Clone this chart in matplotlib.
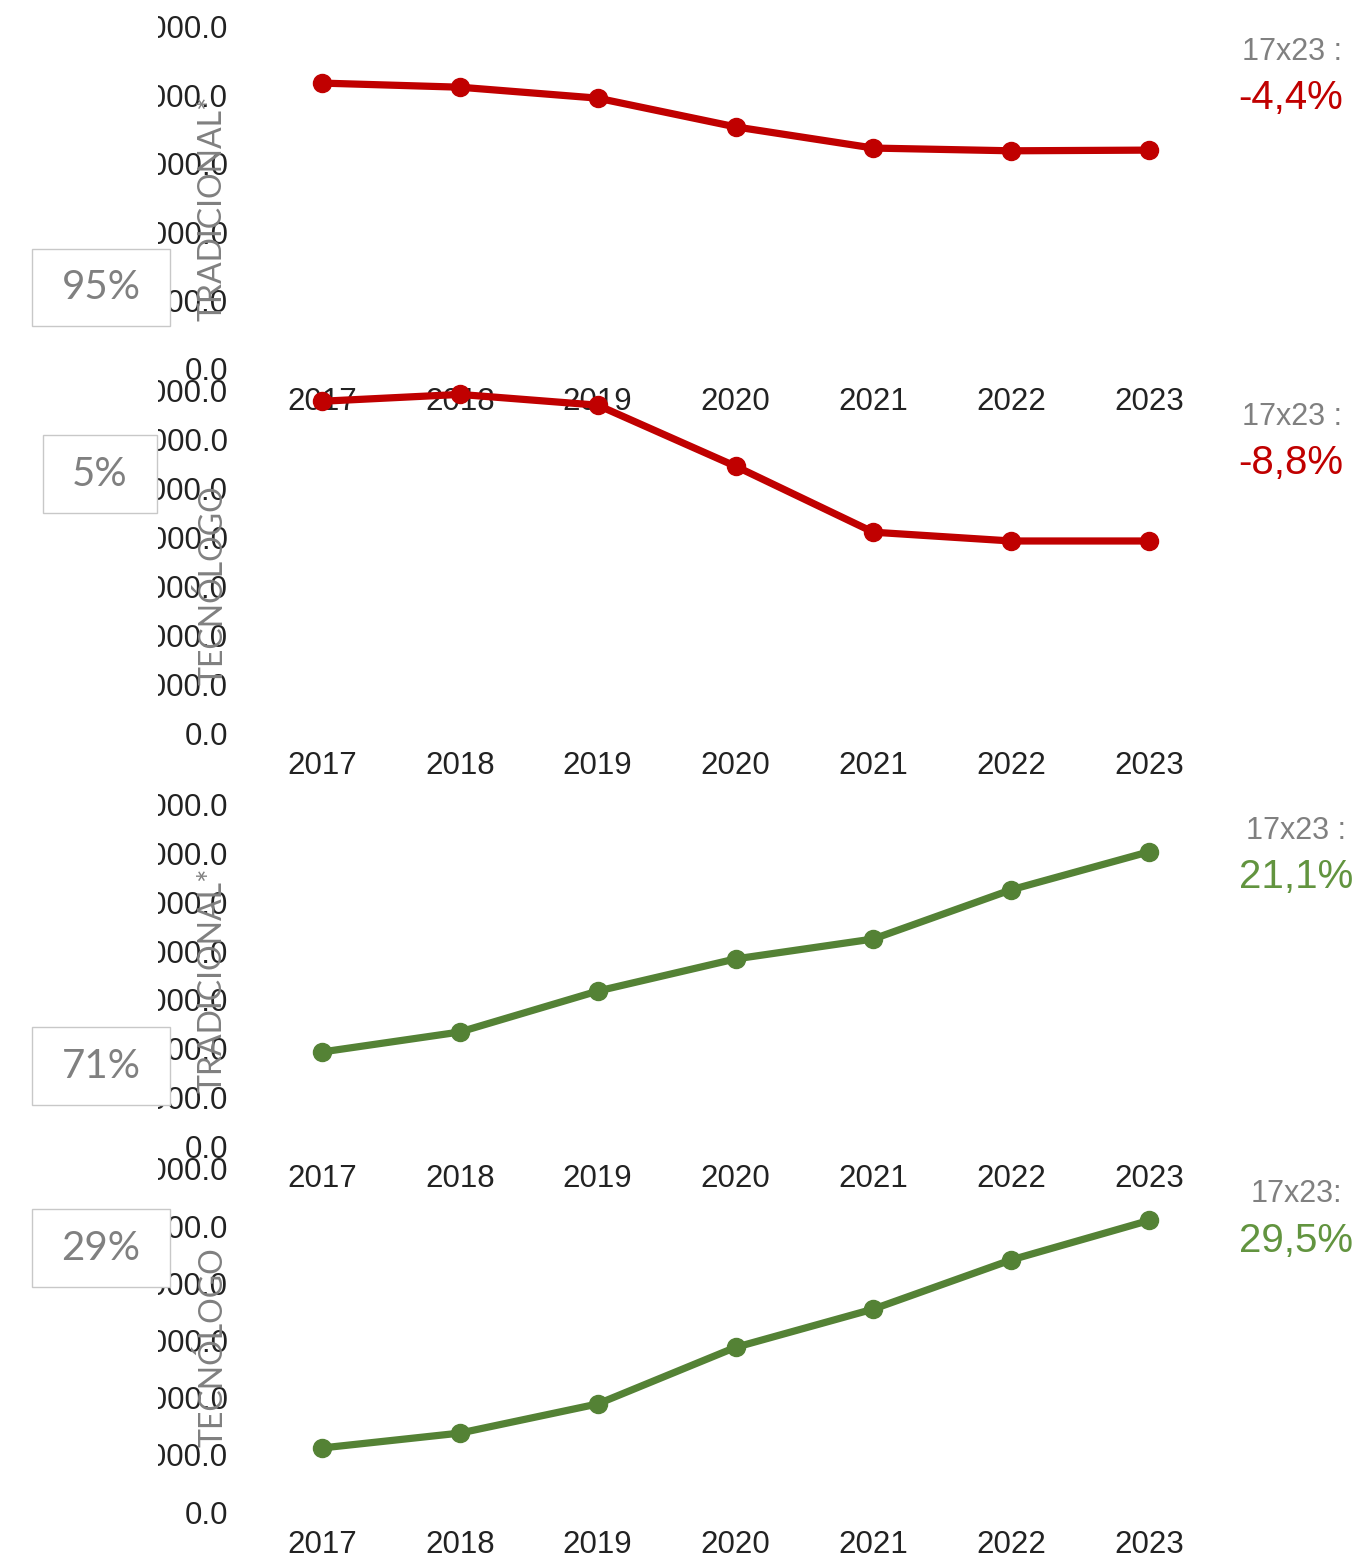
import matplotlib
matplotlib.use('Agg')
import matplotlib.pyplot as plt
from matplotlib.patches import Rectangle

years = ['2017', '2018', '2019', '2020', '2021', '2022', '2023']

# four panels: presencial tradicional / tecnologo, ead tradicional / tecnologo
trad_1 = [83600, 82400, 79200, 70800, 64600, 63800, 64000]
tecn_1 = [67900, 69300, 67100, 54600, 41100, 39300, 39300]
trad_2 = [193000, 234000, 318000, 384000, 425000, 526000, 604000]
tecn_2 = [22400, 27600, 37800, 57600, 71000, 88200, 102000]

series = [trad_1, tecn_1, trad_2, tecn_2]
y_steps = [20000, 10000, 100000, 20000]
y_ntick = [5, 7, 7, 6]
y_titles = ['TRADICIONAL*', 'TECNÓLOGO', 'TRADICIONAL*', 'TECNÓLOGO']
shares = ['95%', '5%', '71%', '29%']
growth_head = ['17x23 :', '17x23 :', '17x23 :', '17x23:']
growth = ['-4,4%', '-8,8%', '21,1%', '29,5%']

RED = '#C00000'
GREEN = '#548235'
GREEN_TXT = '#62943f'
GRAY = '#808080'

W, H = 1364, 1568
dpi = 100
fig = plt.figure(figsize=(W / dpi, H / dpi), dpi=dpi)

# axes boxes in pixels (top, bottom)
rows = [(27, 369), (391, 733), (805, 1146), (1169, 1512)]
left, right = 253, 1218
colors = [RED, RED, GREEN, GREEN]
title_y = [208, 585, 980, 1347]
shade_x = [(32, 170), (43, 157), (32, 170), (32, 170)]
shade_y = [(249, 326), (435, 513), (1027, 1105), (1209, 1287)]
head_pos = [(1292, 52), (1292, 417), (1296, 831), (1296, 1194)]
val_pos = [(1291, 98), (1291, 463), (1296, 877), (1296, 1241)]

for i, vals in enumerate(series):
    top, bot = rows[i]
    ax = fig.add_axes([left / W, 1 - bot / H, (right - left) / W, (bot - top) / H])
    x = range(len(years))
    ax.plot(x, vals, color=colors[i], lw=5.2, marker='o', ms=13,
            solid_capstyle='round', clip_on=False)
    ax.set_xlim(-0.5, len(years) - 0.5)
    ymax = y_steps[i] * y_ntick[i]
    ax.set_ylim(0, ymax)
    ax.set_yticks([y_steps[i] * k for k in range(y_ntick[i] + 1)])
    ax.set_yticklabels(['%.1f' % (y_steps[i] * k) for k in range(y_ntick[i] + 1)],
                       fontsize=22.5, family='Liberation Sans', color='#222222')
    ax.set_xticks(list(x))
    ax.set_xticklabels(years, fontsize=22.5, family='Liberation Sans',
                       color='#222222')
    ax.tick_params(length=0, pad=13)
    ax.tick_params(axis='y', pad=18)
    for s in ax.spines.values():
        s.set_visible(False)
    ax.patch.set_alpha(0)

    # rotated category label sitting over the tick labels
    fig.text(213 / W, 1 - title_y[i] / H, y_titles[i], rotation=90,
             ha='center', va='center', fontsize=23, family='Lato', color=GRAY)

    # share box
    x0, x1 = shade_x[i]
    y0, y1 = shade_y[i]
    fig.patches.append(Rectangle((x0 / W, 1 - y1 / H), (x1 - x0) / W, (y1 - y0) / H,
                                 transform=fig.transFigure, facecolor='white',
                                 edgecolor='#c8c8c8', lw=1, zorder=3))
    fig.text((x0 + x1) / 2 / W, 1 - (y0 + y1) / 2 / H, shares[i], ha='center',
             va='center', fontsize=29, family='Lato', color=GRAY, zorder=4)

    fig.text(head_pos[i][0] / W, 1 - head_pos[i][1] / H, growth_head[i],
             ha='center', va='center', fontsize=22, family='Liberation Sans',
             color=GRAY)
    fig.text(val_pos[i][0] / W, 1 - val_pos[i][1] / H, growth[i],
             ha='center', va='center', fontsize=29, family='Liberation Sans',
             color=RED if i < 2 else GREEN_TXT)

# the slide cuts the left part of the y tick labels
fig.patches.append(Rectangle((0, 0), 158 / W, 1, transform=fig.transFigure,
                             facecolor='white', edgecolor='none', zorder=2))

fig.savefig('out.png', dpi=dpi)
